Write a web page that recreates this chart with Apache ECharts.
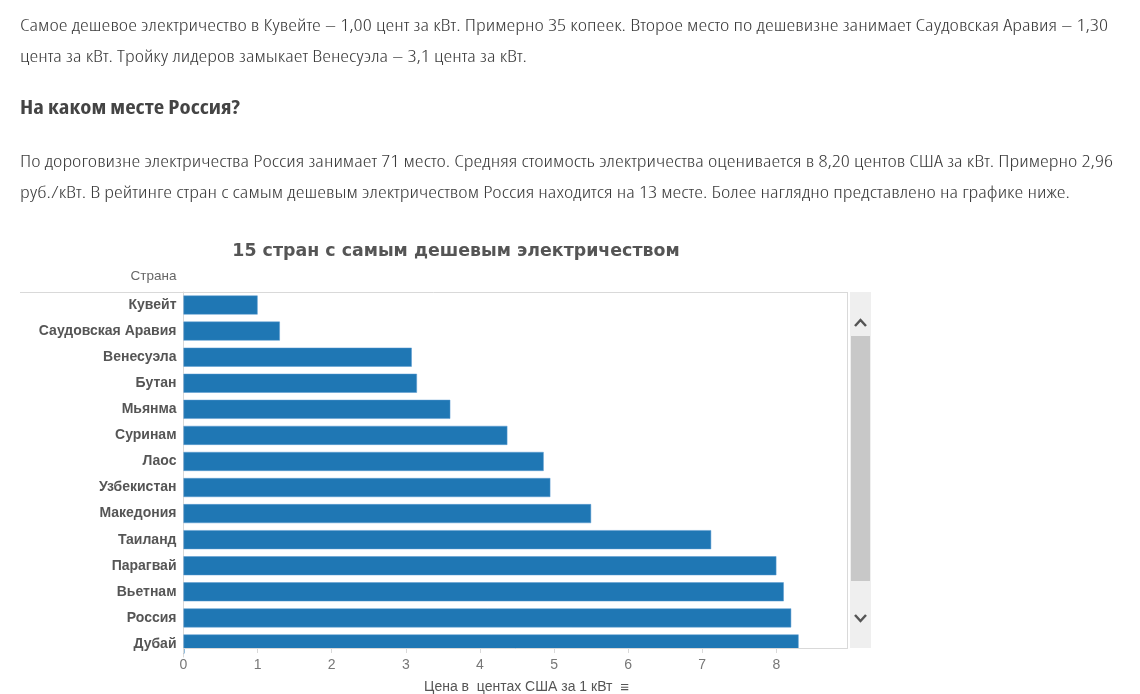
<html lang='ru'>
<head>
    <meta charset='UTF-8'>
    <title>15 стран с самым дешевым электричеством</title>
    <style>
        body {
            margin: 0;
            width: 1140px;
            height: 694px;
            overflow: hidden;
            background: #ffffff;
        }

        #chart {
            position: absolute;
            left: 0;
            top: 0;
            width: 1140px;
            height: 694px;
        }

        .ln {
            position: absolute;
            left: 20px;
            white-space: pre;
            line-height: 20px;
            font-family: 'Open Sans', 'Liberation Sans Narrow', sans-serif;
            font-stretch: 75%;
            font-weight: 300;
            font-size: 17px;
            color: #3c3c3c;
            transform-origin: 0 50%;
            z-index: 2;
        }

        .hd {
            font-weight: 700;
            font-size: 19px;
            color: #444444;
        }
    </style>
</head>

<body>
    <div id='chart'></div>
    <div class='ln' style='top:15px' data-w='1088'>Самое дешевое электричество в Кувейте – 1,00 цент за кВт. Примерно 35 копеек. Второе место по дешевизне занимает Саудовская Аравия – 1,30</div>
    <div class='ln' style='top:46px' data-w='507'>цента за кВт. Тройку лидеров замыкает Венесуэла – 3,1 цента за кВт.</div>
    <div class='ln hd' style='top:97px' data-w='220'>На каком месте Россия?</div>
    <div class='ln' style='top:151px' data-w='1093'>По дороговизне электричества Россия занимает 71 место. Средняя стоимость электричества оценивается в 8,20 центов США за кВт. Примерно 2,96</div>
    <div class='ln' style='top:182px' data-w='1050'>руб./кВт. В рейтинге стран с самым дешевым электричеством Россия находится на 13 месте. Более наглядно представлено на графике ниже.</div>
</body>
<script src='https://cdn.jsdelivr.net/npm/echarts@6/dist/echarts.min.js'></script>
<script>
    // данные с графика
    var countries = ['Кувейт', 'Саудовская Аравия', 'Венесуэла', 'Бутан', 'Мьянма', 'Суринам', 'Лаос',
        'Узбекистан', 'Македония', 'Таиланд', 'Парагвай', 'Вьетнам', 'Россия', 'Дубай'];
    var prices = [1.0, 1.3, 3.08, 3.15, 3.6, 4.37, 4.86, 4.95, 5.5, 7.12, 8.0, 8.1, 8.2, 8.3];
    var xTicks = [0, 1, 2, 3, 4, 5, 6, 7, 8];

    // подгонка строк текста по ширине
    var lines = document.querySelectorAll('.ln');
    for (var i = 0; i < lines.length; i++) {
        var el = lines[i];
        var w = el.getBoundingClientRect().width;
        el.style.transform = 'scaleX(' + (el.getAttribute('data-w') / w) + ')';
    }

    var model = {
        gridLeft: 183.5,
        gridTop: 292,
        gridRight: 847.5,
        viewBottom: 648,
        init: function () {
            var mychart = echarts.init(document.getElementById('chart'));
            var border = '#d9d9d9';
            var option = {
                animation: false,
                title: {
                    text: '15 стран с самым дешевым электричеством',
                    left: 451,
                    top: 238,
                    textAlign: 'center',
                    textStyle: {
                        fontFamily: 'DejaVu Sans',
                        fontWeight: 'bold',
                        fontSize: 17.4,
                        color: '#555555'
                    }
                },
                grid: {
                    left: model.gridLeft,
                    top: model.gridTop,
                    width: model.gridRight - model.gridLeft,
                    height: 365,
                    containLabel: false,
                    outerBoundsMode: 'none'
                },
                xAxis: {
                    type: 'value',
                    min: 0,
                    max: 8.96,
                    interval: 1,
                    offset: -9,
                    z: 10,
                    name: 'Цена в  центах США за 1 кВт  {i|≡}',
                    nameLocation: 'middle',
                    nameGap: 32,
                    nameMoveOverlap: false,
                    nameTextStyle: {
                        fontFamily: 'Liberation Sans',
                        fontSize: 14,
                        color: '#555555',
                        padding: [0, 0, 0, 22],
                        rich: {
                            i: { fontSize: 15, fontWeight: 700, color: '#555555' }
                        }
                    },
                    axisLine: { show: true, lineStyle: { color: border } },
                    axisTick: { show: true, length: 5, lineStyle: { color: border } },
                    splitLine: { show: false },
                    axisLabel: {
                        showMaxLabel: false,
                        margin: 10,
                        fontFamily: 'Liberation Sans',
                        fontSize: 14,
                        color: '#777777',
                        formatter: function (v) {
                            return xTicks.indexOf(v) >= 0 ? String(v) : '';
                        }
                    }
                },
                yAxis: {
                    type: 'category',
                    inverse: true,
                    data: countries,
                    name: 'Страна',
                    nameLocation: 'start',
                    nameGap: 9,
                    nameTextStyle: {
                        align: 'right',
                        fontFamily: 'Liberation Sans',
                        fontSize: 13.5,
                        color: '#666666',
                        padding: [0, 7, 0, 0]
                    },
                    axisLine: { show: true, lineStyle: { color: border } },
                    axisTick: { show: false },
                    axisLabel: {
                        margin: 7,
                        fontFamily: 'Liberation Sans',
                        fontWeight: 700,
                        fontSize: 14,
                        color: '#555555'
                    }
                },
                series: [
                    {
                        name: 'Цена',
                        type: 'bar',
                        barWidth: 19,
                        silent: true,
                        itemStyle: { color: '#1f77b4', borderColor: '#5a9bd0', borderWidth: 0.5 },
                        data: prices
                    }
                ],
                graphic: model.frame(border)
            };
            mychart.setOption(option);
        },
        frame: function (border) {
            var l = model.gridLeft, t = model.gridTop, r = model.gridRight, b = model.viewBottom;
            var sx = 850, sw = 21;
            return [
                // нижняя часть последней строки скрыта прокруткой
                { type: 'rect', z: 5, silent: true, shape: { x: l + 1, y: b + 0.6, width: r - l + 1, height: 12 }, style: { fill: '#ffffff' } },
                { type: 'line', z: 6, silent: true, shape: { x1: 20, y1: t + 0.5, x2: r, y2: t + 0.5 }, style: { stroke: border, lineWidth: 1 } },
                { type: 'line', z: 6, silent: true, shape: { x1: r, y1: t, x2: r, y2: b + 0.5 }, style: { stroke: border, lineWidth: 1 } },
                // полоса прокрутки
                { type: 'rect', z: 6, silent: true, shape: { x: sx, y: t, width: sw, height: b - t }, style: { fill: '#efefef' } },
                { type: 'rect', z: 7, silent: true, shape: { x: sx + 1, y: 336, width: sw - 2, height: 245 }, style: { fill: '#c8c8c8' } },
                { type: 'polyline', z: 7, silent: true, shape: { points: [[sx + 5, 326], [sx + 10.5, 320], [sx + 16, 326]] }, style: { stroke: '#555555', lineWidth: 2.5, fill: null } },
                { type: 'polyline', z: 7, silent: true, shape: { points: [[sx + 5, 615], [sx + 10.5, 621], [sx + 16, 615]] }, style: { stroke: '#555555', lineWidth: 2.5, fill: null } }
            ];
        }
    };
    model.init();
</script>

</html>
